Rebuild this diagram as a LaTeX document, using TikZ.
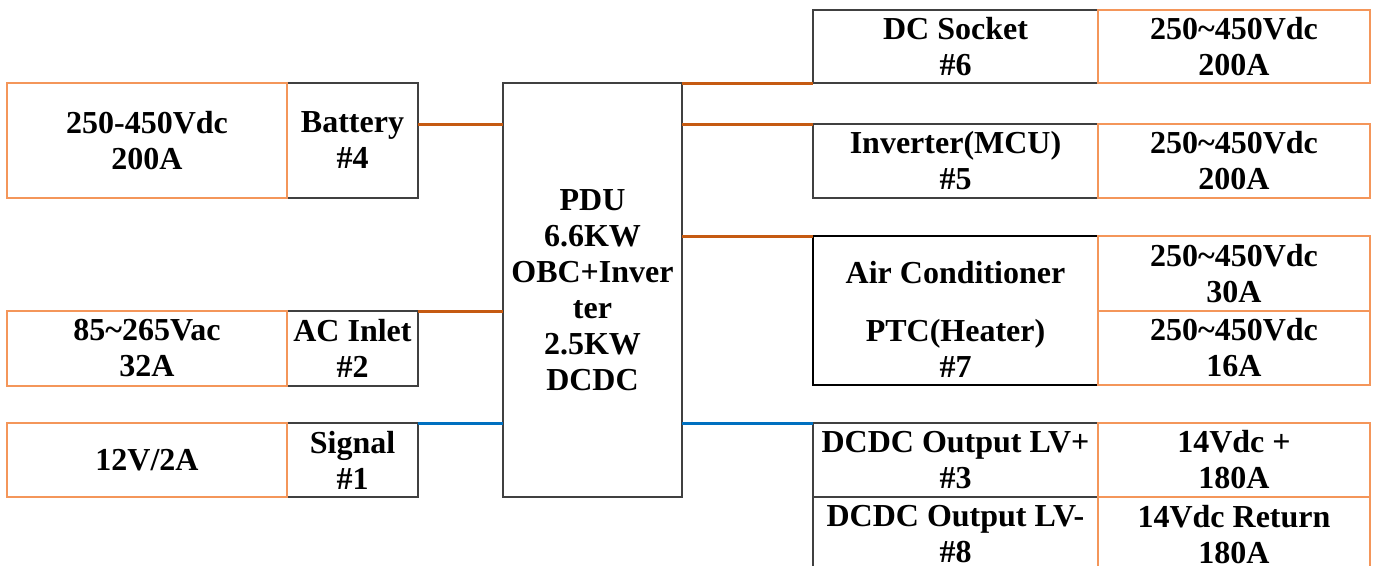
\documentclass[tikz,border=0pt]{standalone}
\usepackage{fontspec}
\setmainfont{Liberation Serif}
\definecolor{wireorange}{RGB}{197,90,17}
\definecolor{wireblue}{RGB}{0,112,192}
\definecolor{cellorange}{RGB}{244,150,90}
\definecolor{celldark}{RGB}{64,64,64}

\begin{document}
\begin{tikzpicture}[x=1pt,y=-1pt,
  label text/.style={font=\bfseries\fontsize{32}{36}\selectfont,align=center,inner sep=0pt},
  port/.style={label text,draw=celldark,line width=1.3pt,anchor=north west,outer sep=0pt},
  rating/.style={port,draw=cellorange},
  hv/.style={wireorange,line width=3pt},
  lv/.style={wireblue,line width=3pt}]
\useasboundingbox (0,0) rectangle (1375,565);
\clip (0,0) rectangle (1375,565);
\node (bat) [port,minimum width=131,minimum height=115] at (287,83) {Battery\\\#4};
\node (acin) [port,minimum width=131,minimum height=75] at (287,311) {AC Inlet\\\#2};
\node (sig) [port,minimum width=131,minimum height=74] at (287,423) {Signal\\\#1};
\node (r4) [rating,minimum width=280,minimum height=115] at (7,83) {250-450Vdc\\200A};
\node (r2) [rating,minimum width=280,minimum height=75] at (7,311) {85\textasciitilde265Vac\\32A};
\node (r1) [rating,minimum width=280,minimum height=74] at (7,423) {12V/2A};
\node (pdu) [port,minimum width=179,minimum height=414] at (503,83) {PDU\\6.6KW\\OBC+Inver\\ter\\2.5KW\\DCDC};
\node (dcs) [port,minimum width=285,minimum height=73] at (813,10) {DC Socket\\\#6};
\node (inv) [port,minimum width=285,minimum height=74] at (813,124) {Inverter(MCU)\\\#5};
\node (ac) [port,draw=black,line width=2pt,minimum width=285,minimum height=149] at (813,236) {};
\node (actxt) [label text] at (955.5,273) {Air Conditioner};
\node (ptctxt) [label text] at (955.5,348) {PTC(Heater)\\\#7};
\node (lvp) [port,minimum width=285,minimum height=74] at (813,423) {DCDC Output LV+\\\#3};
\node (lvm) [port,minimum width=285,minimum height=75] at (813,497) {DCDC Output LV-\\\#8};
\node (r6) [rating,minimum width=272,minimum height=73] at (1098,10) {250\textasciitilde450Vdc\\200A};
\node (r5) [rating,minimum width=272,minimum height=74] at (1098,124) {250\textasciitilde450Vdc\\200A};
\node (r7a) [rating,minimum width=272,minimum height=75] at (1098,236) {250\textasciitilde450Vdc\\30A};
\node (r7b) [rating,minimum width=272,minimum height=74] at (1098,311) {250\textasciitilde450Vdc\\16A};
\node (r3) [rating,minimum width=272,minimum height=74] at (1098,423) {14Vdc +\\180A};
\node (r8) [rating,minimum width=272,minimum height=75] at (1098,497) {14Vdc Return\\180A};
\coordinate (batout) at ([yshift=-41pt]bat.north east);
\draw [hv] (batout) -- (batout -| pdu.west);
\draw [hv] (acin.north east) -- (acin.north east -| pdu.west);
\draw [lv] (sig.north east) -- (sig.north east -| pdu.west);
\draw [hv] (pdu.north east) -- (dcs.south west);
\draw [hv] (inv.north west -| pdu.east) -- (inv.north west);
\draw [hv] (ac.north west -| pdu.east) -- (ac.north west);
\draw [lv] (lvp.north west -| pdu.east) -- (lvp.north west);
\end{tikzpicture}
\end{document}
